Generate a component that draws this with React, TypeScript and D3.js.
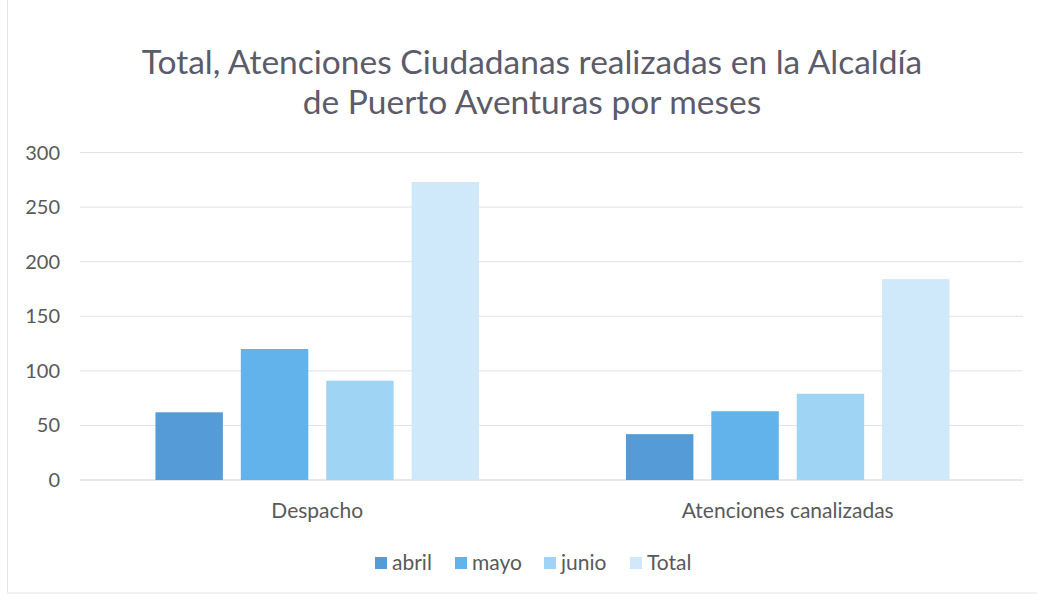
import React from "react";
import * as d3 from "d3";

const categories = ["Despacho", "Atenciones canalizadas"];
const seriesNames = ["abril", "mayo", "junio", "Total"];
const abril = [62, 42];
const mayo = [120, 63];
const junio = [91, 79];
const total = [273, 184];
const yTicks = [0, 50, 100, 150, 200, 250, 300];
const titleLines = [
  "Total, Atenciones Ciudadanas realizadas en la Alcaldía",
  "de Puerto Aventuras por meses",
];
const colors = ["#549bd8", "#62b2ec", "#a0d4f5", "#cfe8fa"];

const W = 1037;
const H = 594;

export default function App() {
  const values = [abril, mayo, junio, total];
  const y = d3.scaleLinear().domain([0, 300]).range([480, 152.5]);
  const x0 = d3.scaleBand<string>().domain(categories).range([82, 1023]);
  const x1 = d3
    .scaleBand<string>()
    .domain(seriesNames)
    .range([0, x0.bandwidth()])
    .paddingInner(0.21)
    .paddingOuter(0.86);
  const color = d3.scaleOrdinal<string, string>().domain(seriesNames).range(colors);
  const font = "Lato, 'Open Sans', sans-serif";
  const textColor = "#595959";
  const legendX = [375, 455, 544, 630];

  return (
    <svg
      width={W}
      height={H}
      style={{ position: "absolute", left: 0, top: 0, background: "#fff" }}
      fontFamily={font}
    >
      <rect x={7.5} y={-2} width={1040} height={595} fill="none" stroke="#e4e4e4" />
      {titleLines.map((t, i) => (
        <text
          key={i}
          x={532}
          y={74 + i * 40}
          textAnchor="middle"
          fontSize={33.5}
          fill="#5b5b6b"
        >
          {t}
        </text>
      ))}
      {yTicks.map((t) => (
        <g key={t}>
          <line x1={80} x2={1023} y1={y(t)} y2={y(t)} stroke={t === 0 ? "#d0d0d0" : "#e2e2e2"} strokeWidth={1} />
          <text x={60} y={y(t) + 7} textAnchor="end" fontSize={20} fill={textColor}>
            {t}
          </text>
        </g>
      ))}
      {categories.map((c, ci) => (
        <g key={c} transform={`translate(${x0(c)},0)`}>
          {seriesNames.map((s, si) => (
            <rect
              key={s}
              x={x1(s)}
              y={y(values[si][ci])}
              width={x1.bandwidth()}
              height={y(0) - y(values[si][ci])}
              fill={color(s)}
            />
          ))}
          <text
            x={x0.bandwidth() / 2}
            y={518}
            textAnchor="middle"
            fontSize={21}
            fill={textColor}
          >
            {c}
          </text>
        </g>
      ))}
      {seriesNames.map((s, i) => (
        <g key={s} transform={`translate(${legendX[i]},0)`}>
          <rect x={0} y={557} width={12} height={12} fill={color(s)} />
          <text x={17} y={570} fontSize={21} fill={textColor}>
            {s}
          </text>
        </g>
      ))}
    </svg>
  );
}
